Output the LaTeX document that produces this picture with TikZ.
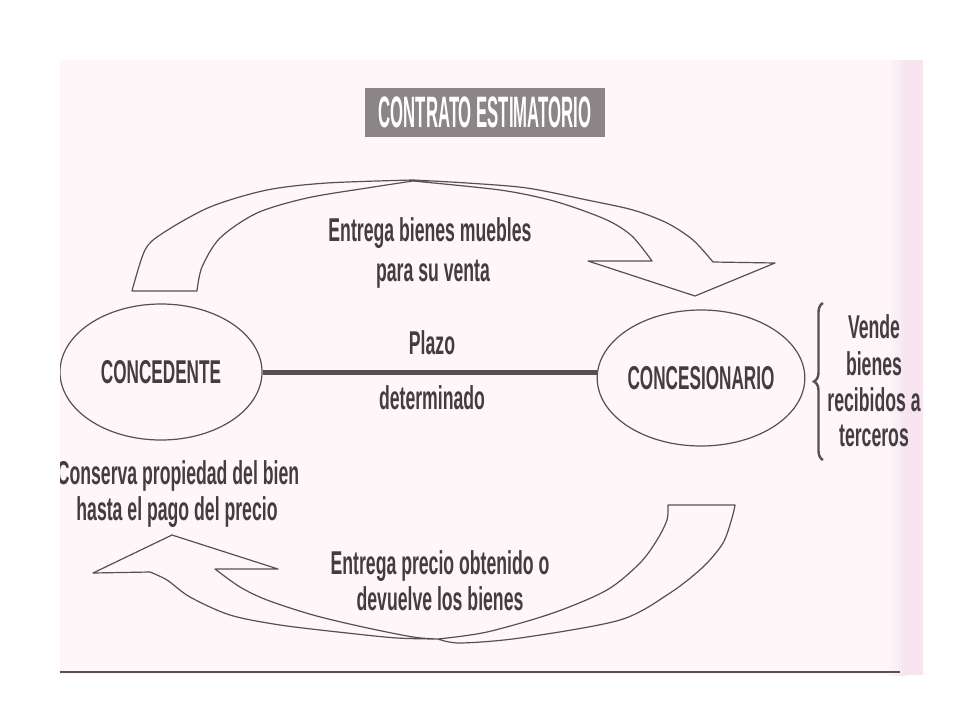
\documentclass[tikz,border=0pt]{standalone}
\usepackage{fontspec}
\setmainfont{Liberation Sans}
\newfontfamily\bodyfont{Liberation Sans}[FakeStretch=0.535]
\newfontfamily\capsfont{Liberation Sans}[FakeStretch=0.52]
\newfontfamily\titlefont{Liberation Sans}[FakeStretch=0.38]
\usetikzlibrary{shapes.geometric,decorations.pathreplacing}
\definecolor{pagebg}{HTML}{FEF6F8}
\definecolor{stripc}{HTML}{F7E4F0}
\definecolor{inkc}{HTML}{423E40}
\definecolor{linec}{HTML}{555153}
\definecolor{titlebg}{HTML}{8C8587}
\tikzset{
  body/.style={font=\bodyfont\bfseries\fontsize{33}{38}\selectfont, text=inkc, inner sep=0pt, anchor=base},
  party/.style={ellipse, draw=linec, line width=1.2pt, fill=pagebg, minimum width=202pt, minimum height=136pt, inner sep=0pt, font=\capsfont\bfseries\fontsize{33}{38}\selectfont, text=inkc},
  ribbon/.style={draw=linec, line width=1.2pt, line join=round, fill=pagebg},
  titlebox/.style={fill=titlebg, minimum width=240pt, minimum height=49pt, inner sep=0pt, font=\titlefont\bfseries\fontsize{44}{44}\selectfont, text=white},
}
\begin{document}
\begin{tikzpicture}[x=1pt,y=-1pt]
\useasboundingbox (0,0) rectangle (960,720);
\fill[white] (0,0) rectangle (960,720);
% page
\fill[pagebg] (60,60) rectangle (923,675);
\shade[left color=pagebg, right color=stripc] (888,60) rectangle (906,675);
\fill[stripc] (906,60) rectangle (923,675);
\draw[linec, line width=1.8pt] (60,672) -- (900,672);
\begin{scope}
\clip (60,60) rectangle (923,675);
% title
\node[titlebox] (title) at (485,112.5) {CONTRATO ESTIMATORIO};
% top arrow
\draw[ribbon] (197,291) -- (132,291)
  -- plot[smooth, tension=0.5] coordinates {(132,291) (145,250) (163,233) (210,207) (267,190) (327,183) (413,180)}
  -- plot[smooth, tension=0.5] coordinates {(413,180) (467,183) (527,188) (587,200) (633,210) (667,223) (693,240) (713,262)}
  -- (775,263) -- (695,296) -- (588,261) -- (652,261)
  -- plot[smooth, tension=0.5] coordinates {(652,261) (633,237) (613,223) (587,212) (550,200) (500,190) (413,181)}
  -- plot[smooth, tension=0.5] coordinates {(413,181) (367,188) (307,198) (257,213) (220,238) (202,267) (197,291)}
  -- cycle;
% bottom arrow
\draw[ribbon] (668,505) -- (735,505)
  -- plot[smooth, tension=0.5] coordinates {(735,505) (732,518) (723,543) (703,567) (670,593) (620,620) (520,638) (460,643) (438,639)}
  -- plot[smooth, tension=0.5] coordinates {(438,639) (397,638) (347,633) (280,625) (230,615) (190,597) (167,580) (150,572)}
  -- (93,573) -- (172,535) -- (278,569) -- (215,569)
  -- plot[smooth, tension=0.5] coordinates {(215,569) (240,587) (267,600) (313,615) (363,627) (413,637) (438,639)}
  -- plot[smooth, tension=0.5] coordinates {(438,639) (487,632) (553,613) (607,590) (640,563) (657,540) (667,520) (668,505)}
  -- cycle;
% parties
\node[party] (cded) at (161,372) {CONCEDENTE};
\node[party] (cnar) at (701,378) {CONCESIONARIO};
\draw[linec, line width=5pt] (cded.east) -- (cded.east -| cnar.west);
% texts
\node[body] (top1) at (430,241) {Entrega bienes muebles};
\node[body] (top2) at (433,281) {para su venta};
\node[body] (plazo1) at (432,354) {Plazo};
\node[body] (plazo2) at (432,409) {determinado};
\node[body] (l1) at (178,484) {Conserva propiedad del bien};
\node[body] (l2) at (177,520) {hasta el pago del precio};
\node[body] (b1) at (440,574) {Entrega precio obtenido o};
\node[body] (b2) at (440,610) {devuelve los bienes};
\node[body] (r1) at (874,338) {Vende};
\node[body] (r2) at (874,375) {bienes};
\node[body] (r3) at (874,411) {recibidos a};
\node[body] (r4) at (874,446) {terceros};
\coordinate (bracebot) at (823,460);
\coordinate (bracetop) at (823,303);
\draw[linec, line width=2.4pt, decorate, decoration={brace, amplitude=9pt}] (bracebot) -- (bracetop);
\end{scope}
\end{tikzpicture}
\end{document}
